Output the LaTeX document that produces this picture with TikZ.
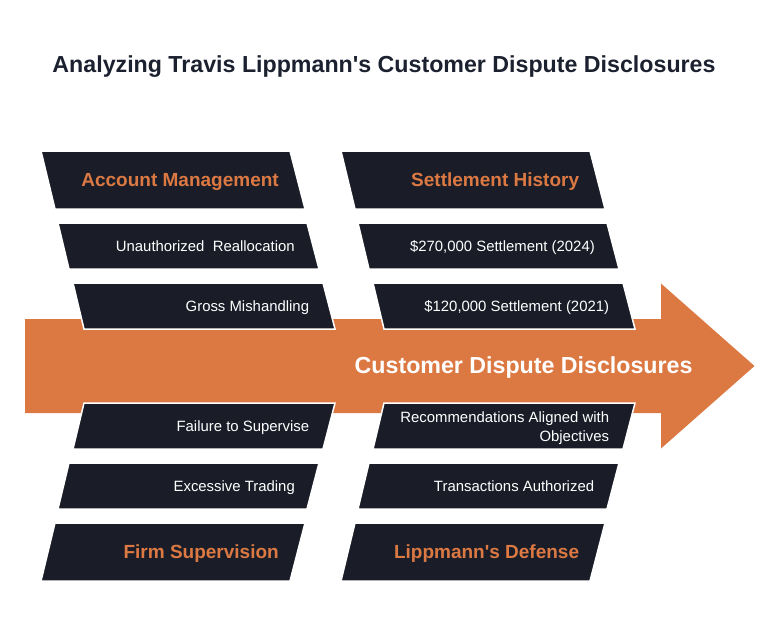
\documentclass[tikz,border=0pt]{standalone}
\usepackage{fontspec}
\setmainfont{Liberation Sans}
\definecolor{navy}{HTML}{1A1D28}
\definecolor{orng}{HTML}{DC7943}
\definecolor{ttl}{HTML}{1C2130}
\tikzset{
  pbox/.style={fill=navy, draw=white, line width=1.5pt, line join=miter},
  head/.style={text=orng, font=\bfseries\fontsize{19}{22}\selectfont, anchor=base east, inner sep=0pt},
  item/.style={text=white, font=\fontsize{14.9}{18.4}\selectfont, anchor=base east, inner sep=0pt},
  arrowshape/.style={fill=orng, draw=none}
}
\begin{document}
\begin{tikzpicture}[x=1pt,y=-1pt]
\useasboundingbox (0,0) rectangle (780,630);
% title
\node[text=ttl, font=\bfseries\fontsize{23.2}{28}\selectfont, anchor=base, inner sep=0pt] (title) at (384,72.3) {Analyzing Travis Lippmann\textquotesingle s Customer Dispute Disclosures};
% main arrow
\path[arrowshape] (25,319) -- (661,319) -- (661,283.5) -- (754.5,366) -- (661,448.5) -- (661,413) -- (25,413) -- cycle;
\node[text=white, font=\bfseries\fontsize{23.2}{26}\selectfont, anchor=base east, inner sep=0pt] (main) at (692.7,373.3) {Customer Dispute Disclosures};
% left column, top
\draw[pbox] (41,151) -- (290,151) -- (305,209) -- (55,209) -- cycle;
\draw[pbox] (58,223) -- (307,223) -- (319,269) -- (69,269) -- cycle;
\draw[pbox] (73,283) -- (323,283) -- (335,329) -- (84,329) -- cycle;
% left column, bottom
\draw[pbox] (84,403) -- (335,403) -- (323,449) -- (73,449) -- cycle;
\draw[pbox] (69,463) -- (319,463) -- (307,509) -- (58,509) -- cycle;
\draw[pbox] (55,523) -- (305,523) -- (290,581) -- (41,581) -- cycle;
% right column, top
\draw[pbox] (341,151) -- (590,151) -- (605,209) -- (355,209) -- cycle;
\draw[pbox] (358,223) -- (607,223) -- (619,269) -- (369,269) -- cycle;
\draw[pbox] (373,283) -- (623,283) -- (635,329) -- (384,329) -- cycle;
% right column, bottom
\draw[pbox] (384,403) -- (635,403) -- (623,449) -- (373,449) -- cycle;
\draw[pbox] (369,463) -- (619,463) -- (607,509) -- (358,509) -- cycle;
\draw[pbox] (355,523) -- (605,523) -- (590,581) -- (341,581) -- cycle;
% texts left
\node[head] (acct) at (279,186.7) {Account Management};
\node[item] (unauth) at (295,251.5) {Unauthorized\ \ Reallocation};
\node[item] (gross) at (309.3,311.5) {Gross Mishandling};
\node[item] (fail) at (309.3,431.5) {Failure to Supervise};
\node[item] (exc) at (295,491.5) {Excessive Trading};
\node[head] (firm) at (279,558.7) {Firm Supervision};
% texts right
\node[head] (settle) at (579.3,186.7) {Settlement History};
\node[item] (s270) at (595,251.5) {\$270,000 Settlement (2024)};
\node[item] (s120) at (609.3,311.5) {\$120,000 Settlement (2021)};
\node[item, anchor=east, align=right] (recom) at (609.3,428) {Recommendations Aligned with\\Objectives};
\node[item] (trans) at (594.3,491.5) {Transactions Authorized};
\node[head] (defense) at (579.3,558.7) {Lippmann\textquotesingle s Defense};
\end{tikzpicture}
\end{document}
